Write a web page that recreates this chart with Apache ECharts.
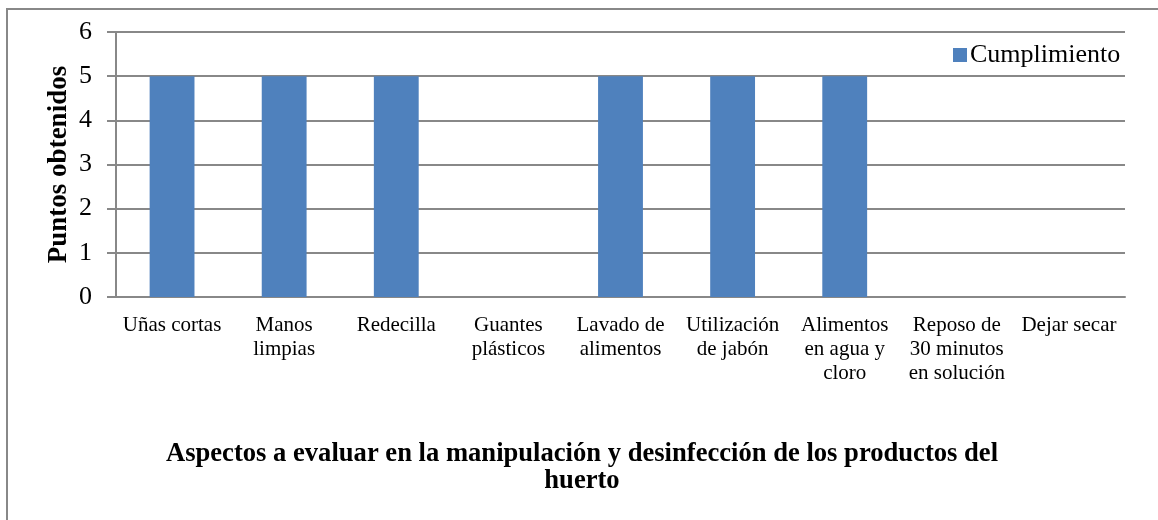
<!DOCTYPE html>
<html>
<head>
<meta charset="utf-8">
<script src="https://cdn.jsdelivr.net/npm/echarts@6/dist/echarts.min.js"></script>
<style>
  html, body { margin: 0; padding: 0; background: #fff; }
  #main { width: 1158px; height: 520px; }
</style>
</head>
<body>
<div id="main"></div>
<script>
var chart = echarts.init(document.getElementById('main'));

// datos
var categorias = ['Uñas cortas', 'Manos\nlimpias', 'Redecilla', 'Guantes\nplásticos', 'Lavado de\nalimentos',
    'Utilización\nde jabón', 'Alimentos\nen agua y\ncloro', 'Reposo de\n30 minutos\nen solución', 'Dejar secar'];
var cumplimiento = [5, 5, 5, 0, 5, 5, 5, 0, 0];
var yTicks = [0, 1, 2, 3, 4, 5, 6];

var fuente = '"Liberation Serif", "Times New Roman", serif';

var option = {
    backgroundColor: '#fff',
    textStyle: { fontFamily: fuente },
    animation: false,
    title: {
        text: 'Aspectos a evaluar en la manipulación y desinfección de los productos del\nhuerto',
        left: 577,
        top: 436,
        textAlign: 'center',
        textStyle: {
            fontFamily: fuente,
            fontWeight: 'bold',
            fontSize: 26.6,
            lineHeight: 27,
            color: '#000'
        }
    },
    legend: {
        data: ['Cumplimiento'],
        left: 948,
        top: 37,
        icon: 'rect',
        itemWidth: 14,
        itemHeight: 14,
        itemGap: 4,
        textStyle: { fontFamily: fuente, fontSize: 26, color: '#000', padding: [0, 0, 0, -2] }
    },
    grid: {
        left: 116,
        right: 33,
        top: 32,
        bottom: 223
    },
    // marco exterior
    graphic: [{
        type: 'rect',
        shape: { x: 7, y: 9, width: 1200, height: 600 },
        style: { fill: null, stroke: '#888', lineWidth: 2 },
        silent: true
    }],
    xAxis: {
        type: 'category',
        data: categorias,
        axisLine: { show: true, lineStyle: { color: '#888', width: 2 } },
        axisTick: { show: false },
        axisLabel: {
            color: '#000',
            fontSize: 21,
            lineHeight: 24,
            margin: 16,
            interval: 0
        }
    },
    yAxis: {
        type: 'value',
        min: 0,
        max: 6,
        interval: 1,
        name: 'Puntos obtenidos',
        nameLocation: 'middle',
        nameGap: 43,
        nameMoveOverlap: false,
        nameTextStyle: { fontFamily: fuente, fontWeight: 'bold', fontSize: 27, color: '#000' },
        axisLine: { show: true, lineStyle: { color: '#888', width: 2 } },
        axisTick: { show: true, inside: false, length: 9, lineStyle: { color: '#888', width: 2 } },
        splitLine: { show: true, lineStyle: { color: '#888', width: 2 } },
        axisLabel: {
            color: '#000',
            fontSize: 26,
            margin: 24,
            formatter: function (v) { return yTicks.indexOf(v) >= 0 ? String(v) : ''; }
        }
    },
    series: [{
        name: 'Cumplimiento',
        type: 'bar',
        data: cumplimiento,
        barWidth: '40%',
        itemStyle: { color: '#4F81BD' }
    }]
};
chart.setOption(option);
</script>
</body>
</html>
